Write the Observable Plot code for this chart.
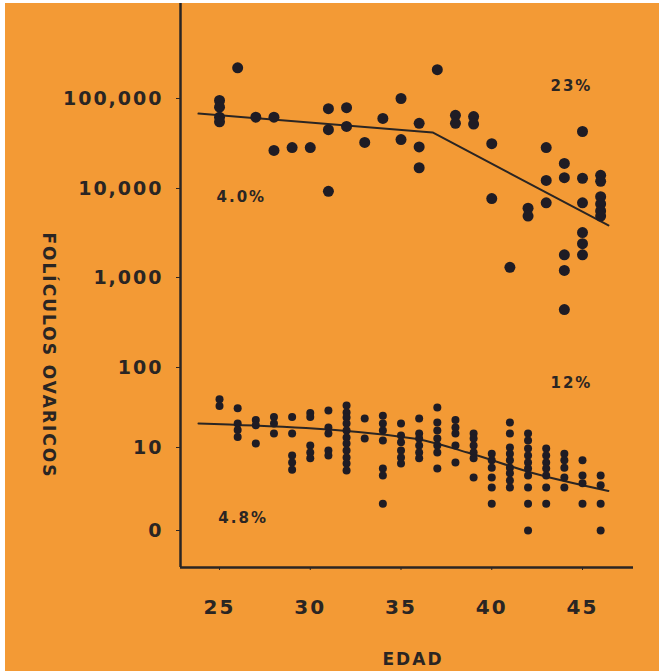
<!DOCTYPE html>
<html><head><meta charset="utf-8">
<script src="https://cdn.jsdelivr.net/npm/d3@7"></script>
<script src="https://cdn.jsdelivr.net/npm/@observablehq/plot@0.6"></script>
<style>
html,body{margin:0;padding:0;background:#fff;}
#chart{position:absolute;left:5px;top:3px;width:654px;height:668px;background:#F39A35;overflow:hidden}
#chart svg{display:block;background:#F39A35;font-family:"DejaVu Sans",sans-serif;font-weight:bold}
#chart svg text{letter-spacing:2px}
</style></head><body><div id="chart"></div>
<script>
// ---- data ----
const xTicks = [25, 30, 35, 40, 45];
const yTicks = [1, 10, 100, 1000, 10000, 100000];
const yTickLabels = ["0", "10", "100", "1,000", "10,000", "100,000"];

// primordial follicles (upper cloud): age -> counts
const upperAges = [25, 26, 27, 28, 29, 30, 31, 32, 33, 34, 35, 36, 37, 38, 39, 40, 41, 42, 43, 44, 45, 46];
const upperCounts = [
  [95000, 80000, 62000, 55000],
  [220000],
  [62000],
  [62000, 26500],
  [28500],
  [28500],
  [77000, 45000, 9300],
  [79000, 49000],
  [32500],
  [60000],
  [100000, 35000],
  [53000, 29000, 17000],
  [210000],
  [65000, 53000],
  [63000, 52000],
  [31500, 7700],
  [1300],
  [6000, 4900],
  [28500, 12300, 6900],
  [19000, 13200, 1800, 1200, 440],
  [43000, 13000, 6900, 3200, 2400, 1800],
  [14000, 12000, 8100, 6700, 5600, 4900]
];

// growing follicles (lower cloud): age -> counts
const lowerAges = [25, 26, 27, 28, 29, 30, 31, 32, 33, 34, 35, 36, 37, 38, 39, 40, 41, 42, 43, 44, 45, 46];
const lowerCounts = [
  [40, 33],
  [31, 20, 16.5, 13.5],
  [22, 19, 11.2],
  [24, 20, 15],
  [24, 15, 8, 6.6, 5.4],
  [27, 24, 10.6, 8.7, 7.4],
  [29, 17.8, 15, 9.2, 8],
  [33.5, 27.4, 23.7, 20, 16.3, 13.3, 11.2, 9.2, 7.6, 6.4, 5.3],
  [23, 13],
  [25, 20, 16.3, 12.2, 5.6, 4.6, 2.1],
  [20, 14.1, 11.6, 9.2, 7.6, 6.4],
  [23, 15, 13, 10.6, 8.7, 7.4],
  [31.6, 20.5, 16.3, 13, 10.6, 8.7, 5.6],
  [22, 17.8, 15, 10.6, 6.6],
  [15, 13, 10.6, 8.7, 7.4, 4.35],
  [8.4, 7.0, 5.7, 4.35, 3.3, 2.1],
  [20.5, 15, 10, 8.4, 7.0, 5.7, 4.9, 4.0, 3.3],
  [15, 12.2, 9.7, 8.0, 6.6, 5.6, 4.6, 3.3, 2.1, 1],
  [9.7, 8.0, 6.6, 5.6, 4.6, 3.3, 2.1],
  [8.4, 7.0, 5.7, 4.35, 3.3],
  [7.0, 4.6, 3.7, 2.1],
  [4.6, 3.5, 2.1, 1]
];

// fitted lines
const upperFitAge = [23.84, 36.74, 46.43];
const upperFitValue = [68000, 42000, 3850];
const lowerFitAge = [23.84, 35.69, 38.66, 42.3, 46.43];
const lowerFitValue = [20, 13, 8.7, 4.9, 3.0];

// rate annotations
const noteText = ["23%", "4.0%", "12%", "4.8%"];
const noteAge = [44.39, 26.2, 44.39, 26.3];
const noteValue = [139000, 7900, 63, 1.4];

const yTitle = "FOLÍCULOS OVARICOS";
const xTitle = "EDAD";

// ---- build tables ----
const flat = (ages, counts) => ages.flatMap((a, i) => counts[i].map(v => ({age: a, value: v})));
const upperPts = flat(upperAges, upperCounts);
const lowerPts = flat(lowerAges, lowerCounts);
const upperFit = upperFitAge.map((a, i) => ({age: a, value: upperFitValue[i]}));
const lowerFit = lowerFitAge.map((a, i) => ({age: a, value: lowerFitValue[i]}));
const notes = noteText.map((t, i) => ({text: t, age: noteAge[i], value: noteValue[i]}));

const ink = "#2a2523";
const dotInk = "#1f1c24";
const xDomain = [22.85, 47.81];
const yDomain = [0.36, 1, 10, 100, 1000, 10000, 100000, 1150000];
const yRange = [564, 527, 444, 364, 274, 185, 95, 0];

const chart = Plot.plot({
  width: 654,
  height: 668,
  marginLeft: 175,
  marginRight: 26,
  marginTop: 0,
  marginBottom: 104,
  style: {background: "#F39A35", color: ink, fontFamily: "DejaVu Sans, sans-serif", fontWeight: "bold"},
  x: {type: "linear", domain: xDomain},
  y: {type: "log", domain: yDomain, range: yRange},
  marks: [
    Plot.axisY({ticks: yTicks, tickFormat: d => yTickLabels[yTicks.indexOf(d)], tickSize: 4, tickPadding: 13, fontSize: 19, label: null, color: ink}),
    Plot.axisX({ticks: xTicks, tickSize: 3, tickPadding: 29, fontSize: 20, label: null, color: ink}),
    Plot.ruleX([xDomain[0]], {stroke: ink, strokeWidth: 2.5}),
    Plot.ruleY([yDomain[0]], {stroke: ink, strokeWidth: 2.5}),
    Plot.line(upperFit, {x: "age", y: "value", stroke: ink, strokeWidth: 2}),
    Plot.line(lowerFit, {x: "age", y: "value", stroke: ink, strokeWidth: 2, curve: "monotone-x"}),
    Plot.dot(upperPts, {x: "age", y: "value", r: 5.5, fill: dotInk}),
    Plot.dot(lowerPts, {x: "age", y: "value", r: 4, fill: dotInk}),
    Plot.text(notes, {x: "age", y: "value", text: "text", fontSize: 15, fill: ink}),
    Plot.text([yTitle], {text: d => d, frameAnchor: "left", textAnchor: "middle", lineAnchor: "middle", rotate: 90, dx: -132, dy: 70, fontSize: 17, fill: ink}),
    Plot.text([xTitle], {text: d => d, frameAnchor: "bottom", lineAnchor: "middle", dx: 6, dy: 92, fontSize: 17, fill: ink})
  ]
});
document.getElementById("chart").appendChild(chart);
</script></body></html>
